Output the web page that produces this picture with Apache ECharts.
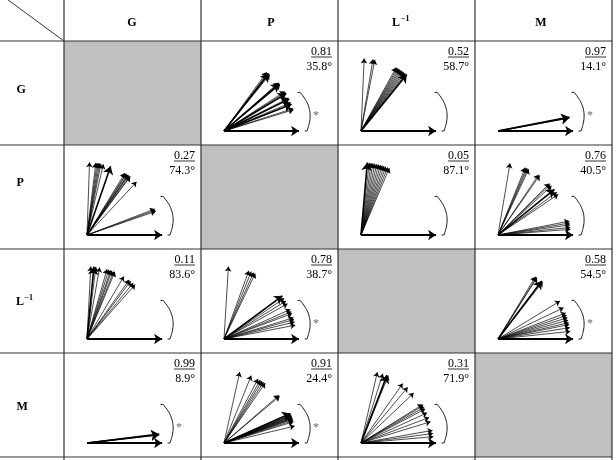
<!DOCTYPE html>
<html><head><meta charset="utf-8">
<script src="https://cdn.jsdelivr.net/npm/echarts@6/dist/echarts.min.js"></script>
<style>html,body{margin:0;padding:0;background:#fff}#c{width:616px;height:460px}</style>
</head><body><div id="c"></div>
<script>
// ---------- data ----------
const names = ['G', 'P', 'L', 'M'];          // 'L' is printed with superscript −1
const cellRow = [0, 0, 0, 1, 1, 1, 2, 2, 2, 3, 3, 3];
const cellCol = [1, 2, 3, 0, 2, 3, 0, 1, 3, 0, 1, 2];
const ratioText = ['0.81', '0.52', '0.97', '0.27', '0.05', '0.76', '0.11', '0.78', '0.58', '0.99', '0.91', '0.31'];
const angleText = ['35.8°', '58.7°', '14.1°', '74.3°', '87.1°', '40.5°', '83.6°', '38.7°', '54.5°', '8.9°', '24.4°', '71.9°'];
const starred = [1, 0, 1, 0, 0, 0, 0, 1, 1, 1, 1, 0];

// vector directions (degrees) read from each cell; bold = heavier arrows
const thinGP = [54, 53, 52.5, 51, 41.5, 41, 40, 39.5, 33, 32, 27, 23, 18, 17];
const boldGP = [52, 40.5, 31, 26, 21.5];
const thinGL = [87.5, 80.5, 79, 61, 60, 59, 58, 57, 56, 55, 54, 53, 52];
const boldGL = [51];
const thinGM = [];
const boldGM = [10.5, 11];
const thinPG = [88, 83, 82, 81, 80, 79, 77, 58.5, 57.5, 57, 56, 55.5, 55, 54, 53.5, 47, 21, 20, 19];
const boldPG = [71];
const thinPL = [83.5, 82, 80.5, 79, 77.5, 76, 74.5, 73, 71.5, 70, 68.5, 67];
const boldPL = [85];
const thinPM = [80.5, 68, 67, 66, 65, 56, 55, 45, 44, 42.5, 36, 34, 11, 9.5, 8, 6, 4.5];
const boldPM = [39];
const thinLG = [87, 83, 80, 74, 72.5, 71, 70, 68.5, 67.5, 59.5, 54.5, 53, 50.5, 48.5];
const boldLG = [84.5];
const thinLP = [86.5, 70, 68, 66, 64.5, 34, 31.5, 29, 24, 22, 20.5, 17, 15.5, 13.5, 11];
const boldLP = [36.5];
const thinLM = [59, 58, 57.5, 52, 31.5, 25.5, 21, 19, 17, 15, 13, 11.5, 9, 6];
const boldLM = [53];
const thinMG = [];
const boldMG = [7, 6.5];
const thinMP = [77.5, 68, 62, 60, 58.5, 57, 55.5, 41, 40, 23, 22.5, 22, 21.5, 21, 20.5, 20, 19.5, 19, 18, 17, 13.5];
const boldMP = [24];
const thinML = [77, 72.5, 68, 55, 50, 43.5, 32, 31, 29.5, 28, 24.5, 20.5, 17, 10, 7.5, 5];
const boldML = [69];

const thinAngles = [thinGP, thinGL, thinGM, thinPG, thinPL, thinPM, thinLG, thinLP, thinLM, thinMG, thinMP, thinML];
const boldAngles = [boldGP, boldGL, boldGM, boldPG, boldPL, boldPM, boldLG, boldLP, boldLM, boldMG, boldMP, boldML];

// ---------- layout ----------
const colX = [0, 64, 201, 338, 475, 612];
const rowY = [0, 41, 145, 249, 353, 457];
const UNIT = 79;
const VEC = 0.92, REF = 0.95;
const rad = a => a * Math.PI / 180;
const vec = (a, len) => [len * Math.cos(rad(a)), len * Math.sin(rad(a))];

const FONT = '"Liberation Serif", "Times New Roman", serif';
const ctx = document.createElement('canvas').getContext('2d');
ctx.font = '12px ' + FONT;

function txt(x, y, text, size, bold, align, color) {
  return { type: 'text', x: x, y: y, z: 20, style: {
    text: text, fill: color || '#000', font: (bold ? 'bold ' : '') + size + 'px ' + FONT,
    textAlign: align || 'left', align: align || 'left', textVerticalAlign: 'middle', verticalAlign: 'middle' } };
}
function seg(x1, y1, x2, y2, w, c) {
  return { type: 'line', z: 30, shape: { x1: x1, y1: y1, x2: x2, y2: y2 }, style: { stroke: c || '#333', lineWidth: w || 1 } };
}

const graphic = [];
// gray diagonal cells
for (let i = 0; i < 4; i++) {
  graphic.push({ type: 'rect', z: 0, shape: { x: colX[i + 1], y: rowY[i + 1], width: colX[i + 2] - colX[i + 1], height: rowY[i + 2] - rowY[i + 1] }, style: { fill: '#c0c0c0' } });
}
// table rules
for (let i = 1; i < rowY.length; i++) graphic.push(seg(0, rowY[i], 612, rowY[i], 1.2));
for (let i = 1; i < colX.length; i++) graphic.push(seg(colX[i], 0, colX[i], 460, 1.2));
graphic.push(seg(0, -6, 64, 41, 1));

// header labels
const headCX = [132, 271, 400, 541];
const rowCY = [90, 183, 302, 407];
names.forEach((n, i) => {
  if (n === 'L') {
    graphic.push(txt(headCX[i] - 8, 23, 'L', 12, true, 'left'));
    graphic.push(txt(headCX[i] + 1, 19, '−1', 8, true, 'left'));
    graphic.push(txt(16, rowCY[i], 'L', 12, true, 'left'));
    graphic.push(txt(24.5, rowCY[i] - 4.5, '−1', 8, true, 'left'));
  } else {
    graphic.push(txt(headCX[i], 23, n, 12, true, 'center'));
    graphic.push(txt(16.5, rowCY[i], n, 12, true, 'left'));
  }
});

const grids = [], xAxes = [], yAxes = [], series = [];
const XMAX = 1.3;
for (let k = 0; k < 12; k++) {
  const X0 = colX[cellCol[k] + 1], Y0 = rowY[cellRow[k] + 1];
  grids.push({ left: X0 + 23, top: Y0 + 90 - UNIT, width: XMAX * UNIT, height: UNIT });
  xAxes.push({ type: 'value', gridIndex: k, min: 0, max: XMAX, show: false });
  yAxes.push({ type: 'value', gridIndex: k, min: 0, max: 1, show: false });

  // value / angle text
  const right = X0 + 131;
  graphic.push(txt(right, Y0 + 11, ratioText[k], 12, false, 'right'));
  const w = ctx.measureText(ratioText[k]).width;
  graphic.push(seg(right - w, Y0 + 16, right, Y0 + 16, 0.8, '#000'));
  graphic.push(txt(right, Y0 + 26, angleText[k], 12, false, 'right'));

  const common = { type: 'lines', coordinateSystem: 'cartesian2d', xAxisIndex: k, yAxisIndex: k, silent: true, clip: false, polyline: false };
  series.push(Object.assign({}, common, {
    symbol: ['none', 'arrow'], symbolSize: 5,
    lineStyle: { color: '#000', width: 0.7, opacity: 1, curveness: 0 },
    data: thinAngles[k].map(a => ({ coords: [[0, 0], vec(a, VEC)] }))
  }));
  series.push(Object.assign({}, common, {
    symbol: ['none', 'arrow'], symbolSize: 8,
    lineStyle: { color: '#000', width: 1.6, opacity: 1, curveness: 0 },
    data: boldAngles[k].map(a => ({ coords: [[0, 0], vec(a, VEC)] }))
  }));
  series.push(Object.assign({}, common, {
    symbol: ['none', 'arrow'], symbolSize: 8,
    lineStyle: { color: '#000', width: 1.8, opacity: 1, curveness: 0 },
    data: [{ coords: [[0, 0], [REF, 0]] }]
  }));
  // bracket ")"
  const br = [[1.02, 0]];
  for (let p = 0; p <= 27; p += 1.5) {
    const r = 1.05 + 0.05 * Math.sin(Math.PI * p / 27) + 0.03 * p / 27;
    br.push(vec(p, r));
  }
  br.push(vec(27.6, 1.05));
  series.push({ type: 'line', xAxisIndex: k, yAxisIndex: k, data: br, showSymbol: false, symbol: 'none', silent: true, clip: false,
    lineStyle: { color: '#222', width: 1 } });
  if (starred[k]) {
    series.push({ type: 'scatter', xAxisIndex: k, yAxisIndex: k, data: [[1.165, 0.19]], symbolSize: 0, silent: true, clip: false,
      label: { show: true, position: 'inside', formatter: '*', color: '#444', fontSize: 12, fontFamily: FONT } });
  }
}

const chart = echarts.init(document.getElementById('c'), null, { renderer: 'canvas' });
chart.setOption({ animation: false, backgroundColor: '#fff', grid: grids, xAxis: xAxes, yAxis: yAxes, series: series, graphic: graphic });
</script></body></html>
